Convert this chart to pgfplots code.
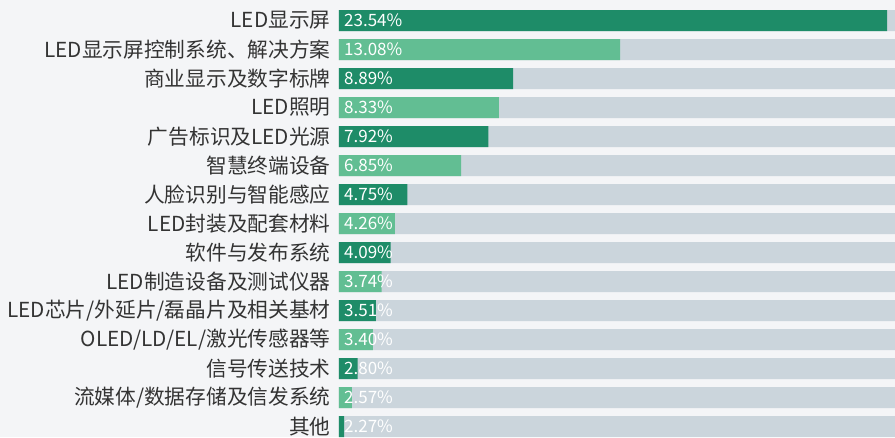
\documentclass[border=0pt]{standalone}
\usepackage{fontspec}
\setmainfont{Noto Sans CJK SC}
\usepackage{pgfplots}
\pgfplotsset{compat=1.18}
\usepackage{pgfplotstable}
\definecolor{dk}{HTML}{1E8C68}
\definecolor{lt}{HTML}{62BE93}
\definecolor{gr}{HTML}{CBD5DC}
\definecolor{bg}{HTML}{F4F5F7}
\definecolor{tc}{HTML}{333333}
\pgfplotstableread{
idx val
0 23.54
2 8.89
4 7.92
6 4.75
8 4.09
10 3.51
12 2.80
14 2.27
}\darkdata
\pgfplotstableread{
idx val
1 13.08
3 8.33
5 6.85
7 4.26
9 3.74
11 3.40
13 2.57
}\lightdata
\pgfplotstableread{
idx base lab
0 2.07 23.54\%
1 2.07 13.08\%
2 2.07 8.89\%
3 2.07 8.33\%
4 2.07 7.92\%
5 2.07 6.85\%
6 2.07 4.75\%
7 2.07 4.26\%
8 2.07 4.09\%
9 2.07 3.74\%
10 2.07 3.51\%
11 2.07 3.40\%
12 2.07 2.80\%
13 2.07 2.57\%
14 2.07 2.27\%
}\labdata
\pgfplotstableread{
idx full
0 24
1 24
2 24
3 24
4 24
5 24
6 24
7 24
8 24
9 24
10 24
11 24
12 24
13 24
14 24
}\greydata
\begin{document}
\begin{tikzpicture}
\fill[bg] (-339pt,0) rectangle (556pt,437pt);
\begin{axis}[
  at={(0,0)}, anchor=south west,
  scale only axis,
  width=556pt, height=437pt,
  xmin=2.07, xmax=23.85,
  ymin=-0.707, ymax=14.362,
  y dir=reverse,
  xbar, bar shift=0pt, bar width=21pt,
  axis line style={draw=none},
  tick style={draw=none},
  xtick=\empty,
  ytick={0,...,14},
  yticklabels={LED显示屏,LED显示屏控制系统、解决方案,商业显示及数字标牌,LED照明,广告标识及LED光源,智慧终端设备,人脸识别与智能感应,LED封装及配套材料,软件与发布系统,LED制造设备及测试仪器,LED芯片/外延片/磊晶片及相关基材,OLED/LD/EL/激光传感器等,信号传送技术,流媒体/数据存储及信发系统,其他},
  yticklabel style={font=\fontsize{20.7}{21}\selectfont, text=tc, inner sep=0pt, xshift=-4pt},
]
\addplot[fill=gr, draw=none] table[x=full, y=idx] {\greydata};
\addplot[fill=dk, draw=none] table[x=val, y=idx] {\darkdata};
\addplot[fill=lt, draw=none] table[x=val, y=idx] {\lightdata};
\addplot[xbar=false, draw=none, mark=none, nodes near coords, point meta=explicit symbolic,
  nodes near coords style={anchor=west, text=white, font=\fontsize{17}{17}\selectfont, inner sep=0pt, xshift=5pt}]
  table[x=base, y=idx, meta=lab] {\labdata};
\end{axis}
\pgfresetboundingbox
\path[use as bounding box] (-339pt,0) rectangle (556pt,437pt);
\end{tikzpicture}
\end{document}
